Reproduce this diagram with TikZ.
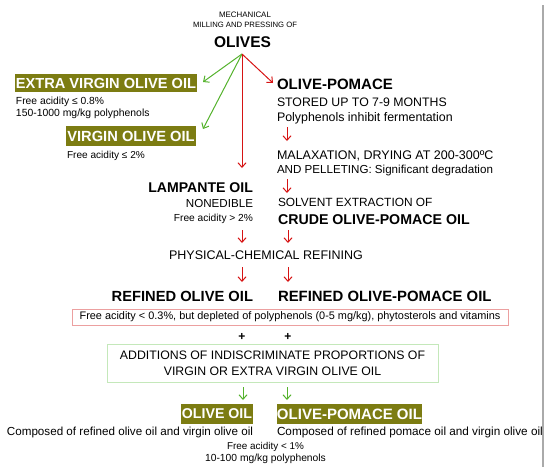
\documentclass[tikz,border=0pt]{standalone}
\usepackage{fontspec}
\setmainfont{Liberation Sans}
\usetikzlibrary{arrows.meta}
\definecolor{oliveg}{RGB}{124,124,18}
\definecolor{myred}{RGB}{214,20,20}
\definecolor{mygreen}{RGB}{84,178,44}
\definecolor{pinkline}{RGB}{236,160,160}
\definecolor{lgreen}{RGB}{196,232,186}
\definecolor{gline}{RGB}{170,170,170}
\newcommand{\fsz}[1]{\fontsize{#1}{#1}\selectfont}
\begin{document}
\begin{tikzpicture}[x=1pt,y=-1pt,
  tx/.style={inner sep=0pt, outer sep=0pt},
  lbl/.style={fill=oliveg, text=white, inner sep=0pt, outer sep=0pt, font=\bfseries},
  ra/.style={draw=myred, line width=1pt, -{Straight Barb[length=4.5pt,width=8pt]}},
  ga/.style={draw=mygreen, line width=1pt, -{Straight Barb[length=4.5pt,width=8pt]}}]
\useasboundingbox (0,0) rectangle (550,474);
% right gray line
\coordinate (g1) at (543,5);
\coordinate (g2) at (543,467);
\draw[gline, line width=1.2pt] (g1) -- (g2);

% top
\node[tx, anchor=base, font=\fsz{7.9}] (mech) at (245,17) {MECHANICAL};
\node[tx, anchor=base, font=\fsz{7.7}] (mill) at (245,27.5) {MILLING AND PRESSING OF};
\node[tx, anchor=base, font=\fsz{15.5}\bfseries] (olives) at (242.5,47) {OLIVES};
\coordinate (o) at (242,54);

% left column
\node[lbl, font=\fsz{14.6}\bfseries, minimum width=182pt, minimum height=18pt] (evoo) at (106,83) {EXTRA VIRGIN OLIVE OIL};
\node[tx, anchor=base west, font=\fsz{10.3}] (evoo1) at (16,104) {Free acidity ≤ 0.8\%};
\node[tx, anchor=base west, font=\fsz{10.4}] (evoo2) at (16,116.5) {150-1000 mg/kg polyphenols};
\node[lbl, font=\fsz{14.7}\bfseries, minimum width=130pt, minimum height=20pt] (voo) at (131,136) {VIRGIN OLIVE OIL};
\node[tx, anchor=base west, font=\fsz{10.1}] (voo1) at (67,158) {Free acidity ≤ 2\%};
\coordinate (evooE) at (203,82);
\coordinate (vooE) at (203,129);
\draw[ga] (o) -- (evooE);
\draw[ga] (o) -- (vooE);

% lampante
\coordinate (lampN) at (242,168);
\draw[ra] (o) -- (lampN);
\node[tx, anchor=base east, font=\fsz{14.1}\bfseries] (lamp) at (253,192) {LAMPANTE OIL};
\node[tx, anchor=base east, font=\fsz{11.6}] (lamp1) at (253,207) {NONEDIBLE};
\node[tx, anchor=base east, font=\fsz{10.2}] (lamp2) at (253,221) {Free acidity > 2\%};

% right column
\coordinate (pomW) at (273,83);
\draw[ra] (o) -- (pomW);
\node[tx, anchor=base west, font=\fsz{15}\bfseries] (pom) at (277,89) {OLIVE-POMACE};
\node[tx, anchor=base west, font=\fsz{12.3}] (pom1) at (277,106) {STORED UP TO 7-9 MONTHS};
\node[tx, anchor=base west, font=\fsz{12.4}] (pom2) at (277,121) {Polyphenols inhibit fermentation};
\coordinate (a1s) at (287,127);
\coordinate (a1e) at (287,141);
\draw[ra] (a1s) -- (a1e);
\node[tx, anchor=base west, font=\fsz{12.5}] (mal) at (277,159) {MALAXATION, DRYING AT 200-300ºC};
\node[tx, anchor=base west, font=\fsz{11.6}] (mal2) at (277,173) {AND PELLETING: Significant degradation};
\coordinate (a2s) at (287,179);
\coordinate (a2e) at (287,193);
\draw[ra] (a2s) -- (a2e);
\node[tx, anchor=base west, font=\fsz{11.9}] (sol) at (278,206) {SOLVENT EXTRACTION OF};
\node[tx, anchor=base west, font=\fsz{14.2}\bfseries] (crude) at (278,224) {CRUDE OLIVE-POMACE OIL};

% refining
\coordinate (b1s) at (242,230);
\coordinate (b1e) at (242,243);
\coordinate (b2s) at (288,230);
\coordinate (b2e) at (288,243);
\draw[ra] (b1s) -- (b1e);
\draw[ra] (b2s) -- (b2e);
\node[tx, anchor=base, font=\fsz{12.5}] (phys) at (266,259) {PHYSICAL-CHEMICAL REFINING};
\coordinate (c1s) at (242,267);
\coordinate (c1e) at (242,282);
\coordinate (c2s) at (288,267);
\coordinate (c2e) at (288,282);
\draw[ra] (c1s) -- (c1e);
\draw[ra] (c2s) -- (c2e);
\node[tx, anchor=base east, font=\fsz{14.7}\bfseries] (roo) at (253,301) {REFINED OLIVE OIL};
\node[tx, anchor=base west, font=\fsz{14.9}\bfseries] (ropo) at (278,301) {REFINED OLIVE-POMACE OIL};

\node[draw=pinkline, line width=0.8pt, inner xsep=0pt, inner ysep=0pt, minimum width=436pt, minimum height=16pt, font=\fsz{10.9}] (redbox) at (290,317) {Free acidity < 0.3\%, but depleted of polyphenols (0-5 mg/kg), phytosterols and vitamins};

\node[tx, font=\fsz{12}\bfseries] (p1) at (242,337) {+};
\node[tx, font=\fsz{12}\bfseries] (p2) at (288,337) {+};

\node[draw=lgreen, line width=0.8pt, inner sep=0pt, minimum width=331pt, minimum height=38pt, align=center, font=\fontsize{12.3}{16}\selectfont] (add) at (272.5,363) {ADDITIONS OF INDISCRIMINATE PROPORTIONS OF\\VIRGIN OR EXTRA VIRGIN OLIVE OIL};

\coordinate (d1s) at (243,387);
\coordinate (d1e) at (243,400);
\coordinate (d2s) at (287,387);
\coordinate (d2e) at (287,400);
\draw[ga] (d1s) -- (d1e);
\draw[ga] (d2s) -- (d2e);

\node[lbl, font=\fsz{14.2}\bfseries, minimum width=72pt, minimum height=20pt] (oo) at (217,414) {OLIVE OIL};
\node[lbl, font=\fsz{15}\bfseries, minimum width=145pt, minimum height=20pt] (opo) at (349.5,414) {OLIVE-POMACE OIL};
\node[tx, anchor=base east, font=\fsz{11.65}] (oo1) at (253,435) {Composed of refined olive oil and virgin olive oil};
\node[tx, anchor=base west, font=\fsz{11.75}] (opo1) at (277,435) {Composed of refined pomace oil and virgin olive oil};
\node[tx, anchor=base, font=\fsz{9.9}] (fa) at (265.5,449) {Free acidity < 1\%};
\node[tx, anchor=base, font=\fsz{10.3}] (pp) at (265.5,461) {10-100 mg/kg polyphenols};
\end{tikzpicture}
\end{document}
